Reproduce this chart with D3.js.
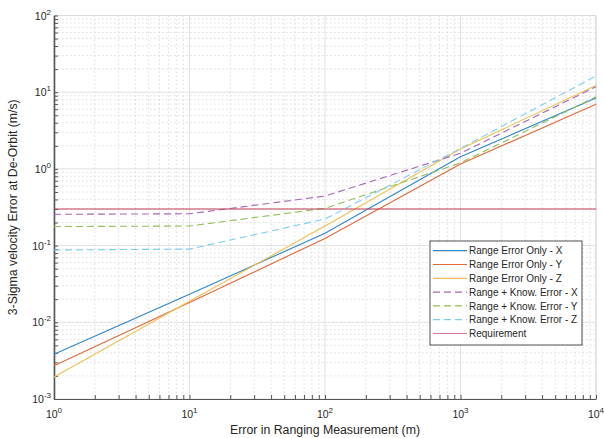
<!DOCTYPE html>
<html>
<head>
<meta charset="utf-8">
<script src="https://cdn.jsdelivr.net/npm/d3@7"></script>
<style>
  body { margin: 0; background: #fff; }
  text { font-family: "Liberation Sans", Arial, sans-serif; fill: #262626; }
</style>
</head>
<body>
<div id="chart"></div>
<script>
// data (x = ranging error in m)
const xVals = [1, 10, 100, 1000, 10000];
const rangeX = [0.00383, 0.0232, 0.145, 1.44, 8.4];
const rangeY = [0.00272, 0.0181, 0.124, 1.16, 6.95];
const rangeZ = [0.00194, 0.0188, 0.18, 1.82, 12.2];
const knowX = [0.256, 0.26, 0.443, 1.6, 11.8];
const knowY = [0.177, 0.18, 0.306, 1.2, 8.7];
const knowZ = [0.0877, 0.09, 0.222, 1.85, 16.3];
const requirement = [0.3, 0.3, 0.3, 0.3, 0.3];

const seriesNames = ["Range Error Only - X", "Range Error Only - Y", "Range Error Only - Z",
  "Range + Know. Error - X", "Range + Know. Error - Y", "Range + Know. Error - Z", "Requirement"];
const seriesData = [rangeX, rangeY, rangeZ, knowX, knowY, knowZ, requirement];
const colors = ["#2f86c8", "#e0683a", "#f0c050", "#a566b8", "#8fbf55", "#7ccdf0", "#c23a55"];
const dashed = [false, false, false, true, true, true, false];

const xTicks = [1, 10, 100, 1000, 10000];
const yTicks = [0.001, 0.01, 0.1, 1, 10, 100];

const margin = {top: 15.5, right: 8, bottom: 39, left: 54};
const width = 604 - margin.left - margin.right;
const height = 438 - margin.top - margin.bottom;

const svg = d3.select("#chart")
  .append("svg")
    .attr("width", 604)
    .attr("height", 438)
  .append("g")
    .attr("transform", `translate(${margin.left}, ${margin.top})`);

const x = d3.scaleLog().domain([1, 10000]).range([0, width]);
const y = d3.scaleLog().domain([0.001, 100]).range([height, 0]);

// minor grid (dotted)
const minorX = [], minorY = [];
for (let e = 0; e < 4; e++) for (let k = 2; k <= 9; k++) minorX.push(k * Math.pow(10, e));
for (let e = -3; e < 2; e++) for (let k = 2; k <= 9; k++) minorY.push(k * Math.pow(10, e));

svg.append("g").selectAll("line").data(minorX).join("line")
  .attr("x1", d => x(d)).attr("x2", d => x(d)).attr("y1", 0).attr("y2", height)
  .attr("stroke", "#dcdcdc").attr("stroke-dasharray", "1.5,2.5");
svg.append("g").selectAll("line").data(minorY).join("line")
  .attr("y1", d => y(d)).attr("y2", d => y(d)).attr("x1", 0).attr("x2", width)
  .attr("stroke", "#dcdcdc").attr("stroke-dasharray", "1.5,2.5");

// major grid
svg.append("g").selectAll("line").data(xTicks).join("line")
  .attr("x1", d => x(d)).attr("x2", d => x(d)).attr("y1", 0).attr("y2", height)
  .attr("stroke", "#e0e0e0");
svg.append("g").selectAll("line").data(yTicks).join("line")
  .attr("y1", d => y(d)).attr("y2", d => y(d)).attr("x1", 0).attr("x2", width)
  .attr("stroke", "#e0e0e0");

// light box top/right
svg.append("path")
  .attr("d", `M0,0H${width}V${height}`)
  .attr("fill", "none").attr("stroke", "#dadada");

// axes
const xAxis = svg.append("g")
  .attr("transform", `translate(0, ${height})`)
  .call(d3.axisBottom(x).tickValues(xTicks.concat(minorX)).tickSizeInner(-4).tickSizeOuter(0).tickFormat(""));
const yAxis = svg.append("g")
  .call(d3.axisLeft(y).tickValues(yTicks.concat(minorY)).tickSizeInner(-4).tickSizeOuter(0).tickFormat(""));
[xAxis, yAxis].forEach(a => {
  a.selectAll("path, line").attr("stroke", "#555");
});
xAxis.select(".domain").attr("stroke-width", 1.2);
yAxis.select(".domain").attr("stroke-width", 1.6);

// tick labels with superscript exponents
const xl = svg.append("g").selectAll("text").data(xTicks).join("text")
  .attr("x", d => x(d)).attr("y", height + 19)
  .attr("text-anchor", "middle").attr("font-size", 10.5);
xl.append("tspan").text("10");
xl.append("tspan").attr("dy", -5).attr("font-size", 8).text(d => Math.round(Math.log10(d)));

const yl = svg.append("g").selectAll("text").data(yTicks).join("text")
  .attr("x", -3).attr("y", d => y(d) + 4)
  .attr("text-anchor", "end").attr("font-size", 10.5);
yl.append("tspan").text("10");
yl.append("tspan").attr("dy", -5).attr("font-size", 8).text(d => Math.round(Math.log10(d)));

// lines
const line = d3.line().x((d, i) => x(xVals[i])).y(d => y(d));
svg.append("g").selectAll("path").data(seriesData).join("path")
  .attr("d", d => line(d))
  .attr("fill", "none")
  .attr("stroke", (d, i) => colors[i])
  .attr("stroke-width", 1.1)
  .attr("stroke-dasharray", (d, i) => dashed[i] ? "7,4" : null);

// axis labels
svg.append("text")
  .attr("x", width / 2).attr("y", height + 35)
  .attr("text-anchor", "middle").attr("font-size", 12.3)
  .text("Error in Ranging Measurement (m)");
svg.append("text")
  .attr("transform", `translate(${-37}, ${height / 2}) rotate(-90)`)
  .attr("text-anchor", "middle").attr("font-size", 12.3)
  .text("3-Sigma velocity Error at De-Orbit (m/s)");

// legend
const lg = svg.append("g").attr("transform", `translate(${430 - margin.left}, ${241 - margin.top})`);
lg.append("rect").attr("width", 152).attr("height", 104)
  .attr("fill", "#fff").attr("stroke", "#262626").attr("stroke-width", 0.8);
const item = lg.selectAll("g").data(seriesNames).join("g")
  .attr("transform", (d, i) => `translate(0, ${9.7 + i * 13.8})`);
item.append("line").attr("x1", 3).attr("x2", 37)
  .attr("stroke", (d, i) => i === 6 ? "#d47a8e" : colors[i]).attr("stroke-width", 1.2)
  .attr("stroke-dasharray", (d, i) => dashed[i] ? "7,4" : null);
item.append("text").attr("x", 39).attr("y", 3.6).attr("font-size", 10).text(d => d);
</script>
</body>
</html>
